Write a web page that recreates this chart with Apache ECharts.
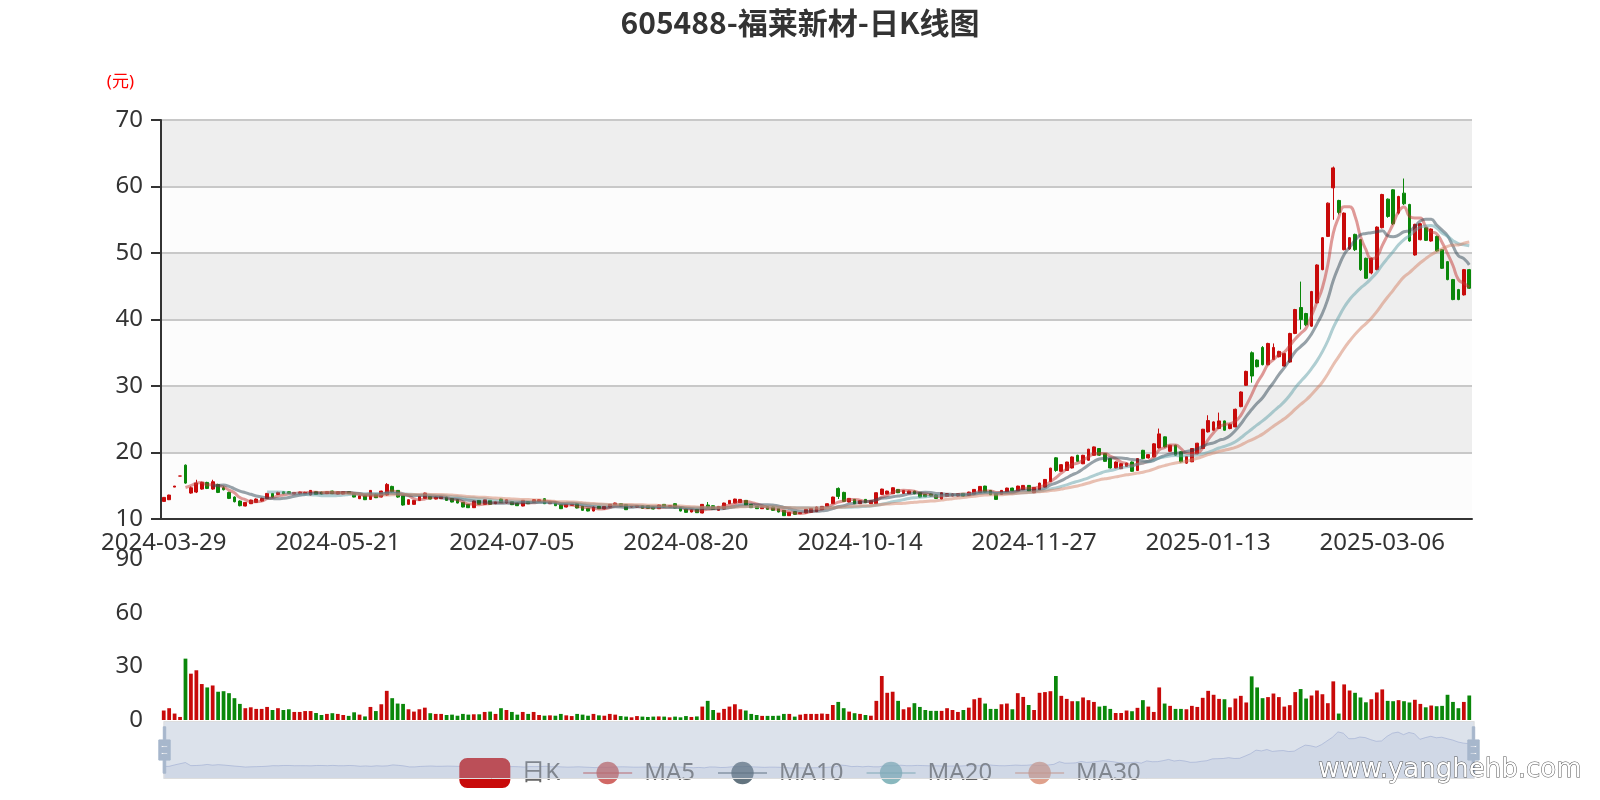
<!DOCTYPE html>
<html><head><meta charset="utf-8">
<script src="https://cdn.jsdelivr.net/npm/echarts@6/dist/echarts.min.js"></script>
<style>html,body{margin:0;padding:0;background:#fff}#c{width:1600px;height:800px}</style>
</head><body><div id="c"></div>
<script>
const dates = [
'2024-03-29','2024-04-01','2024-04-02','2024-04-03','2024-04-08','2024-04-09','2024-04-10','2024-04-11','2024-04-12','2024-04-15','2024-04-16','2024-04-17','2024-04-18','2024-04-19','2024-04-22','2024-04-23','2024-04-24','2024-04-25','2024-04-26','2024-04-29','2024-04-30',
'2024-05-06','2024-05-07','2024-05-08','2024-05-09','2024-05-10','2024-05-13','2024-05-14','2024-05-15','2024-05-16','2024-05-17','2024-05-20','2024-05-21','2024-05-22','2024-05-23','2024-05-24','2024-05-27','2024-05-28','2024-05-29','2024-05-30','2024-05-31',
'2024-06-03','2024-06-04','2024-06-05','2024-06-06','2024-06-07','2024-06-11','2024-06-12','2024-06-13','2024-06-14','2024-06-17','2024-06-18','2024-06-19','2024-06-20','2024-06-21','2024-06-24','2024-06-25','2024-06-26','2024-06-27','2024-06-28',
'2024-07-01','2024-07-02','2024-07-03','2024-07-04','2024-07-05','2024-07-08','2024-07-09','2024-07-10','2024-07-11','2024-07-12','2024-07-15','2024-07-16','2024-07-17','2024-07-18','2024-07-19','2024-07-22','2024-07-23','2024-07-24','2024-07-25','2024-07-26','2024-07-29','2024-07-30','2024-07-31',
'2024-08-01','2024-08-02','2024-08-05','2024-08-06','2024-08-07','2024-08-08','2024-08-09','2024-08-12','2024-08-13','2024-08-14','2024-08-15','2024-08-16','2024-08-19','2024-08-20','2024-08-21','2024-08-22','2024-08-23','2024-08-26','2024-08-27','2024-08-28','2024-08-29','2024-08-30',
'2024-09-02','2024-09-03','2024-09-04','2024-09-05','2024-09-06','2024-09-09','2024-09-10','2024-09-11','2024-09-12','2024-09-13','2024-09-18','2024-09-19','2024-09-20','2024-09-23','2024-09-24','2024-09-25','2024-09-26','2024-09-27','2024-09-30',
'2024-10-08','2024-10-09','2024-10-10','2024-10-11','2024-10-14','2024-10-15','2024-10-16','2024-10-17','2024-10-18','2024-10-21','2024-10-22','2024-10-23','2024-10-24','2024-10-25','2024-10-28','2024-10-29','2024-10-30','2024-10-31',
'2024-11-01','2024-11-04','2024-11-05','2024-11-06','2024-11-07','2024-11-08','2024-11-11','2024-11-12','2024-11-13','2024-11-14','2024-11-15','2024-11-18','2024-11-19','2024-11-20','2024-11-21','2024-11-22','2024-11-25','2024-11-26','2024-11-27','2024-11-28','2024-11-29',
'2024-12-02','2024-12-03','2024-12-04','2024-12-05','2024-12-06','2024-12-09','2024-12-10','2024-12-11','2024-12-12','2024-12-13','2024-12-16','2024-12-17','2024-12-18','2024-12-19','2024-12-20','2024-12-23','2024-12-24','2024-12-25','2024-12-26','2024-12-27','2024-12-30','2024-12-31',
'2025-01-02','2025-01-03','2025-01-06','2025-01-07','2025-01-08','2025-01-09','2025-01-10','2025-01-13','2025-01-14','2025-01-15','2025-01-16','2025-01-17','2025-01-20','2025-01-21','2025-01-22','2025-01-23','2025-01-24','2025-01-27',
'2025-02-05','2025-02-06','2025-02-07','2025-02-10','2025-02-11','2025-02-12','2025-02-13','2025-02-14','2025-02-17','2025-02-18','2025-02-19','2025-02-20','2025-02-21','2025-02-24','2025-02-25','2025-02-26','2025-02-27','2025-02-28',
'2025-03-03','2025-03-04','2025-03-05','2025-03-06','2025-03-07','2025-03-10','2025-03-11','2025-03-12','2025-03-13','2025-03-14','2025-03-17','2025-03-18','2025-03-19','2025-03-20','2025-03-21','2025-03-24','2025-03-25','2025-03-26','2025-03-27','2025-03-28'
];
const opens = [
12.65,12.9,14.8,16.46,18.1,13.9,14.05,14.5,15.5,14.5,15.2,14.7,14.0,13.3,12.7,11.95,12.3,12.5,12.7,13.1,
13.85,13.7,14.1,14.1,13.75,13.8,13.8,13.6,14.1,14.05,13.8,14.2,13.75,13.75,14.1,13.8,13.05,13.5,12.95,13.7,
13.3,13.6,14.9,14.3,13.5,12.2,12.2,12.8,13.1,13.4,13.0,13.05,13.3,13.1,12.9,12.5,12.2,11.7,12.8,12.2,
12.8,12.3,13.0,12.4,12.6,12.4,11.95,12.6,12.5,12.65,13.05,12.3,12.5,12.14,11.8,12.05,12.3,11.9,11.6,11.2,
11.9,11.5,11.8,12.15,12.3,12.15,11.8,11.8,12.0,12.0,11.8,11.55,12.2,11.8,12.3,11.7,11.5,11.05,11.45,10.9,
12.1,12.0,11.3,11.5,12.3,12.4,12.45,12.8,12.2,11.9,11.55,11.85,11.8,11.6,11.3,10.5,11.1,10.8,10.9,11.0,
11.1,11.4,11.9,12.3,14.6,14.0,12.55,12.95,12.3,12.95,12.3,12.3,13.7,13.75,13.8,14.45,13.85,13.8,14.2,13.95,
13.7,13.75,13.6,13.0,13.4,13.45,13.45,13.85,13.55,13.75,13.95,14.95,14.3,13.8,13.7,14.1,14.65,14.25,14.4,15.05,
13.95,14.4,14.8,15.65,19.2,17.17,17.3,17.67,19.58,18.3,18.83,19.58,20.6,19.83,19.08,17.67,17.57,17.9,18.57,17.3,
20.33,19.18,19.33,20.69,22.35,20.18,21.1,20.1,18.4,18.6,19.8,20.6,23.1,23.35,23.6,24.75,23.6,23.85,26.9,30.1,
35.0,33.9,35.8,33.2,34.0,34.4,33.0,33.6,37.9,41.8,40.9,39.0,42.5,47.5,52.5,59.8,57.9,50.5,50.6,52.8,
52.0,49.2,47.0,47.5,53.8,58.1,59.5,56.0,59.0,57.3,49.7,52.0,53.8,51.8,52.5,50.5,48.7,46.0,44.5,43.7,
47.5
];
const closes = [
13.25,13.6,14.96,16.46,15.4,14.7,15.4,15.5,14.6,15.6,14.0,14.4,13.1,12.6,12.0,12.5,12.85,13.0,13.1,13.85,
13.3,14.0,13.8,13.85,14.0,14.05,14.0,14.3,13.7,13.75,14.1,13.8,14.1,14.1,13.8,13.3,13.5,12.9,14.3,13.2,
14.2,15.2,14.1,13.3,12.1,12.9,12.8,13.4,13.9,13.0,13.3,13.4,12.8,12.55,12.4,11.8,11.7,12.7,12.2,12.9,
12.2,12.6,12.5,12.9,12.15,12.0,12.8,12.3,12.9,12.9,12.3,12.55,12.0,11.55,12.2,12.2,11.65,11.3,11.2,11.8,
11.55,11.9,12.2,12.4,11.95,11.4,11.9,12.0,11.6,11.6,11.5,12.1,11.8,12.0,11.65,11.2,11.0,11.4,10.95,12.2,
11.8,11.45,11.9,12.4,12.8,13.0,12.95,12.05,11.7,11.55,11.8,11.45,11.3,11.05,10.5,11.0,10.7,10.95,11.45,11.6,
11.8,11.9,12.3,13.3,13.4,12.65,13.1,12.3,12.75,12.45,12.75,13.95,14.5,14.2,14.7,13.95,14.3,14.2,13.8,13.3,
13.35,13.45,13.1,13.95,13.8,13.75,13.8,13.45,14.05,14.45,14.9,14.05,13.65,12.95,14.3,14.65,14.25,14.95,15.05,14.2,
14.75,15.4,15.95,17.65,17.3,18.17,18.57,19.33,18.67,19.58,20.5,20.84,19.6,18.67,17.67,18.57,18.32,18.4,17.17,19.08,
19.08,19.68,21.3,22.8,20.84,21.09,19.6,18.6,19.4,20.6,21.4,23.5,24.8,24.6,24.75,23.35,24.25,26.5,29.1,32.2,
31.5,32.9,33.2,36.4,35.8,35.2,34.9,37.9,41.5,40.0,39.2,44.2,48.2,52.3,57.5,62.8,56.1,56.0,52.3,50.5,
47.5,46.2,49.2,53.9,58.8,55.5,54.4,58.5,57.4,51.8,54.3,54.4,51.9,53.6,50.3,47.7,46.0,43.0,43.0,47.5,
44.7
];
const lows = [
12.6,12.85,14.8,16.46,15.3,13.8,13.9,14.4,14.5,14.4,13.9,14.3,13.0,12.5,11.9,11.9,12.25,12.45,12.6,13.0,
13.25,13.6,13.75,13.8,13.7,13.7,13.75,13.55,13.65,13.7,13.75,13.75,13.7,13.7,13.75,13.25,13.0,12.85,12.9,13.15,
13.25,13.5,14.0,13.2,12.0,12.15,12.15,12.75,13.05,12.95,12.95,13.0,12.75,12.5,12.35,11.75,11.65,11.65,12.15,12.15,
12.15,12.25,12.45,12.35,12.1,11.95,11.9,12.25,12.45,12.6,12.25,12.25,11.95,11.5,11.75,12.0,11.6,11.25,11.15,11.15,
11.5,11.45,11.75,12.1,11.9,11.35,11.75,11.75,11.55,11.55,11.45,11.5,11.75,11.75,11.6,11.15,10.95,11.0,10.9,10.85,
11.7,11.4,11.25,11.45,12.25,12.35,12.4,12.0,11.65,11.5,11.5,11.4,11.25,11.0,10.45,10.45,10.65,10.75,10.85,10.95,
11.05,11.35,11.85,12.25,13.0,12.6,12.5,12.25,12.25,12.4,12.25,12.25,13.6,13.7,13.75,13.9,13.8,13.75,13.75,13.25,
13.3,13.4,13.05,12.95,13.35,13.4,13.4,13.4,13.5,13.7,13.9,14.0,13.6,12.9,13.65,14.05,14.2,14.2,14.35,14.15,
13.9,14.35,14.75,15.6,17.1,17.1,17.25,17.6,18.6,18.25,18.75,19.5,19.5,18.6,17.6,17.6,17.5,17.85,17.1,17.25,
19.0,19.1,19.3,20.6,20.75,20.1,19.5,18.5,18.3,18.55,19.75,20.55,23.0,23.3,23.55,23.3,23.5,23.8,26.8,30.0,
30.5,32.8,33.1,33.1,33.9,34.3,32.9,33.5,37.8,38.5,39.0,38.9,42.4,47.4,52.4,55.0,55.8,50.4,50.5,50.3,
47.3,46.1,46.8,47.4,53.7,55.3,54.2,55.8,57.2,51.7,49.6,51.9,51.8,51.7,50.2,47.6,45.9,42.9,42.9,43.6,
44.6
];
const highs = [
13.3,13.65,14.96,16.46,18.2,14.9,15.9,15.6,15.6,15.9,15.3,14.9,14.1,13.4,12.8,12.55,12.9,13.1,13.2,13.9,
13.9,14.1,14.15,14.15,14.05,14.1,14.1,14.35,14.15,14.1,14.15,14.25,14.15,14.15,14.15,13.85,13.55,13.55,14.35,13.8,
14.25,15.4,15.0,14.35,13.5,12.95,12.85,13.45,13.95,13.45,13.35,13.45,13.35,13.15,12.95,12.55,12.25,12.75,12.85,12.95,
12.85,12.65,13.05,12.95,12.65,12.45,12.85,12.65,12.95,12.95,13.1,12.6,12.55,12.2,12.25,12.25,12.35,11.95,11.65,11.85,
11.95,11.95,12.25,12.45,12.35,12.2,11.95,12.05,12.05,12.05,11.85,12.15,12.25,12.05,12.35,11.75,11.55,11.45,11.5,12.25,
12.55,12.05,11.95,12.45,12.85,13.05,13.0,12.85,12.25,11.95,11.85,11.9,11.85,11.65,11.35,11.05,11.15,11.0,11.5,11.65,
11.85,11.95,12.35,13.35,14.75,14.1,13.15,13.0,12.8,13.0,12.8,14.0,14.55,14.25,14.75,14.5,14.35,14.25,14.25,14.0,
13.75,13.8,13.65,14.0,13.85,13.8,13.85,13.9,14.1,14.5,14.95,15.0,14.35,13.85,14.35,14.7,14.7,15.0,15.1,15.1,
14.8,15.45,16.0,17.7,19.3,18.25,18.6,19.4,19.65,19.65,20.55,20.9,20.65,19.9,19.15,18.65,18.4,18.45,18.65,19.15,
20.4,19.75,21.4,23.6,22.4,21.15,21.15,20.15,19.45,20.65,21.45,23.55,25.6,24.7,26.0,24.8,24.35,26.6,29.2,32.3,
35.2,34.0,36.0,36.5,36.4,35.3,35.0,38.0,41.6,45.7,41.0,44.3,48.3,52.4,57.6,63.0,58.0,56.1,52.4,52.9,
52.1,49.3,49.3,54.0,58.9,58.2,59.6,58.6,61.2,57.4,54.4,54.5,53.9,53.7,52.6,50.6,48.8,46.1,44.6,47.6,
47.6
];
const volumes = [
5.3,6.6,3.6,1.7,34.3,25.9,27.8,20.1,18.2,19.3,15.8,16.1,15.0,12.2,9.0,6.6,7.1,6.2,6.2,7.3,
5.6,6.6,5.6,6.0,4.5,4.5,5.0,5.0,3.9,2.8,3.4,3.8,3.4,2.8,2.3,4.3,3.0,2.0,7.3,5.0,
8.8,16.3,12.2,9.2,9.0,6.0,4.7,6.0,6.9,3.8,3.4,3.4,2.8,3.0,2.4,3.4,3.0,3.2,3.2,4.5,
4.7,3.4,6.6,5.6,4.5,3.0,4.5,3.4,4.5,2.8,2.4,2.6,2.4,3.4,2.6,2.2,3.4,3.0,2.4,3.4,
2.6,2.4,3.4,3.0,2.2,1.9,1.5,2.2,1.9,1.7,1.9,2.0,1.9,1.5,1.9,1.5,2.2,1.7,2.0,7.5,
10.7,5.6,4.1,6.2,7.5,8.8,6.0,5.3,3.4,2.8,2.3,2.3,2.3,2.4,3.4,3.4,1.9,3.0,3.4,3.4,
3.4,3.6,3.4,8.4,10.1,6.6,4.7,3.8,3.4,2.8,2.4,10.7,24.6,15.2,15.8,10.7,6.0,7.1,9.4,7.3,
5.6,5.1,5.1,5.1,6.6,5.6,4.5,5.6,6.9,11.6,12.4,9.2,6.2,6.2,8.8,9.2,6.0,15.0,12.9,8.4,
5.6,15.2,15.6,16.1,24.6,13.5,11.8,10.5,10.5,12.6,11.1,10.1,7.5,7.9,6.2,3.9,3.9,5.3,4.9,6.8,
11.1,7.5,4.5,18.2,9.2,7.9,6.2,6.2,6.0,7.9,7.3,12.4,16.3,14.1,11.8,11.6,7.1,12.0,13.5,9.8,
24.4,18.2,12.2,12.8,14.8,12.8,7.5,8.3,15.6,17.3,12.0,13.7,16.5,14.4,9.4,21.6,3.6,19.9,16.5,15.2,
12.6,9.9,11.6,15.4,17.1,10.7,10.5,11.1,10.5,9.8,11.3,9.0,7.1,8.1,7.7,7.9,14.1,10.1,6.6,10.1,
13.7
];
const legendNames = ['日K','MA5','MA10','MA20','MA30'];
const maPeriods = [5,10,20,30];
const maColors = ['#c23531','#2f4554','#61a0a8','#d48265'];
const UP = '#c80a0a', DOWN = '#0a870a';

const kData = opens.map((o,i)=>[o, closes[i], lows[i], highs[i]]);
function isUp(i){
  if (closes[i] > opens[i]) return true;
  if (closes[i] < opens[i]) return false;
  return i === 0 ? true : closes[i] >= closes[i-1];
}
const volData = volumes.map((v,i)=>({value:v, itemStyle:{color: isUp(i)?UP:DOWN}}));
function calcMA(n){
  return closes.map((c,i)=>{
    if (i < n-1) return '-';
    let s = 0; for (let j=i-n+1;j<=i;j++) s += closes[j];
    return +(s/n).toFixed(3);
  });
}
const FONT = "'Noto Sans','Noto Sans CJK SC',sans-serif";
const chart = echarts.init(document.getElementById('c'));
const maSeries = maPeriods.map((p,k)=>({
  name:'MA'+p, type:'line', data:calcMA(p), smooth:true, showSymbol:false, symbol:'circle',
  xAxisIndex:0, yAxisIndex:0,
  itemStyle:{color:maColors[k], opacity:0.75},
  lineStyle:{width:3, opacity:0.5, color:maColors[k]}
}));
chart.setOption({
  animation:false,
  backgroundColor:'#fff',
  textStyle:{fontFamily:FONT},
  title:{text:'605488-福莱新材-日K线图', left:'center', top:3,
    textStyle:{fontSize:30, fontWeight:'bold', color:'#333', fontFamily:"'Noto Sans CJK SC',sans-serif"}},
  legend:{data:legendNames, top:753, left:'center', itemWidth:49, itemHeight:28, itemGap:22,
    textStyle:{fontSize:24, color:'#666', fontFamily:FONT, padding:[0,0,0,7]}},
  grid:[
    {left:161, right:128, top:120, height:399},
    {left:161, right:128, top:559, height:161}
  ],
  xAxis:[
    {type:'category', data:dates, gridIndex:0, boundaryGap:true,
     axisLine:{lineStyle:{color:'#333', width:2}},
     axisTick:{length:10, lineStyle:{width:2}},
     axisLabel:{fontSize:24, color:'#333', interval:31, margin:12},
     splitLine:{show:false}},
    {type:'category', data:dates, gridIndex:1, boundaryGap:true,
     axisLine:{show:false}, axisTick:{show:false}, axisLabel:{show:false}, splitLine:{show:false}}
  ],
  yAxis:[
    {type:'value', gridIndex:0, min:10, max:70, interval:10, scale:true,
     name:'(元)', nameLocation:'end', nameGap:29,
     nameTextStyle:{color:'#ff0000', fontSize:17, align:'right', padding:[0,27,0,0]},
     axisLine:{show:true, lineStyle:{color:'#333', width:2}},
     axisTick:{show:true, length:10, lineStyle:{width:2}},
     axisLabel:{fontSize:24, color:'#333', margin:18},
     splitLine:{lineStyle:{color:'#c8c8c8', width:2}},
     splitArea:{show:true, areaStyle:{color:['#fcfcfc','#eeeeee']}}},
    {type:'value', gridIndex:1, min:0, max:90, interval:30,
     axisLine:{show:false}, axisTick:{show:false},
     axisLabel:{fontSize:24, color:'#333', margin:18},
     splitLine:{show:false}}
  ],
  dataZoom:[
    {type:'inside', xAxisIndex:[0,1], start:0, end:100},
    {type:'slider', xAxisIndex:[0,1], start:0, end:100, top:721, height:58, left:161, right:128,
     showDetail:false, brushSelect:false, moveHandleSize:0,
     backgroundColor:'rgba(47,69,84,0)', fillerColor:'rgba(167,183,204,0.4)', borderColor:'#ddd',
     handleIcon:'path://M8.2,13.6V3.9H6.3v9.7H3.1v14.9h3.3v9.7h1.8v-9.7h3.3V13.6H8.2z M9.7,24.4H4.8v-1.4h4.9V24.4z M9.7,19.1H4.8v-1.4h4.9V19.1z',
     handleSize:'80%', handleStyle:{color:'#a7b7cc', borderColor:'#a7b7cc'},
     dataBackground:{lineStyle:{color:'#2f4554', width:0.5, opacity:0.3}, areaStyle:{color:'rgba(47,69,84,0.3)', opacity:0.3}}}
  ],
  graphic:[{type:'text', right:18, bottom:16, z:100,
    style:{text:'www.yanghehb.com', font:"26px 'DejaVu Sans', sans-serif", fill:'#fff', stroke:'#555', lineWidth:1}}],
  series:[
    {name:'日K', type:'candlestick', data:kData, barWidth:'60%', xAxisIndex:0, yAxisIndex:0,
     itemStyle:{color:UP, color0:DOWN, borderColor:UP, borderColor0:DOWN}},
    ...maSeries,
    {name:'成交量', type:'bar', data:volData, xAxisIndex:1, yAxisIndex:1}
  ]
});
</script>
</body></html>
